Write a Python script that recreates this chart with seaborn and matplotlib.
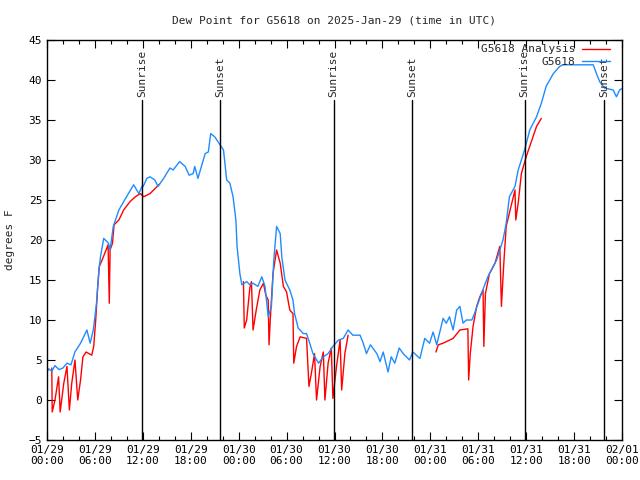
import matplotlib
matplotlib.use("Agg")
import matplotlib.pyplot as plt
import matplotlib.dates as mdates
from matplotlib.lines import Line2D
import seaborn as sns
import pandas as pd

# hours after 2025-01-29 00:00 UTC
obs_hours = [0.0, 0.2, 0.6, 1.0, 1.5, 2.0, 2.5, 3.0, 3.5, 4.2, 5.0, 5.4, 5.8, 6.2, 6.5,
             6.7, 7.1, 7.7, 7.9, 8.3, 9.0, 9.6, 10.2, 10.85, 11.5, 11.9, 12.05, 12.5,
             12.9, 13.5, 13.9, 14.6, 15.4, 15.8, 16.6, 17.3, 17.8, 18.3, 18.5, 18.9,
             19.4, 19.8, 20.2, 20.5, 21.0, 21.4, 22.1, 22.5, 22.9, 23.3, 23.65, 23.8,
             24.15, 24.4, 25.0, 25.4, 25.8, 26.4, 26.9, 27.3, 27.7, 28.1, 28.4, 28.75,
             29.2, 29.4, 29.8, 30.4, 30.8, 31.0, 31.45, 32.1, 32.5, 32.9, 33.3, 34.0,
             34.6, 35.2, 35.8, 36.5, 37.1, 37.7, 38.3, 39.2, 39.6, 40.0, 40.5, 41.3,
             41.7, 42.1, 42.7, 43.1, 43.55, 44.1, 44.6, 45.4, 45.8, 46.7, 47.3, 47.9,
             48.35, 48.8, 49.6, 50.0, 50.4, 50.85, 51.3, 51.7, 52.1, 52.5, 53.2, 53.6,
             54.4, 55.2, 56.3, 57.1, 57.5, 57.9, 58.6, 59.0, 59.8, 60.45, 61.3, 61.9,
             62.5, 63.4, 64.2, 64.6, 68.4, 68.8, 69.2, 69.8, 70.9, 71.3, 71.7, 71.95]
obs_dew = [3.5, 3.9, 3.6, 4.3, 3.8, 4.0, 4.6, 4.4, 6.0, 7.1, 8.75, 7.1, 8.75, 12.1, 16.25,
           17.9, 20.2, 19.6, 18.75, 21.7, 23.75, 24.8, 25.8, 26.9, 25.8, 26.7, 26.7, 27.7,
           27.9, 27.5, 26.7, 27.7, 29.0, 28.75, 29.8, 29.2, 28.1, 28.3, 29.2, 27.7,
           29.4, 30.8, 31.0, 33.3, 32.9, 32.3, 31.25, 27.5, 27.1, 25.4, 22.5, 19.2,
           15.8, 14.4, 14.8, 14.4, 14.6, 14.2, 15.4, 14.2, 10.4, 11.7, 17.5, 21.7,
           20.8, 17.9, 15.0, 13.75, 12.5, 10.8, 9.0, 8.3, 8.3, 7.1, 5.8, 4.6,
           5.4, 5.8, 6.7, 7.5, 7.7, 8.75, 8.1, 8.1, 7.1, 5.8, 6.9, 5.8,
           4.8, 6.0, 3.5, 5.4, 4.6, 6.5, 5.8, 5.0, 6.0, 5.2, 7.7, 7.1,
           8.5, 6.9, 10.2, 9.6, 10.4, 8.75, 11.25, 11.7, 9.6, 10.0, 10.0, 11.0,
           13.3, 15.4, 17.5, 20.0, 22.1, 25.4, 26.7, 28.75, 31.25, 33.75, 35.4, 37.1,
           39.2, 40.8, 41.7, 41.9, 41.9, 40.8, 39.8, 39.0, 38.75, 37.9, 38.75, 38.9]

ana_hours = [0.6, 0.65, 1.0, 1.45, 1.65, 2.1, 2.5, 2.8, 3.1, 3.5, 3.85, 4.2, 4.5, 4.9,
             5.6, 5.85, 6.1, 6.35, 6.55, 6.9, 7.3, 7.65, 7.8, 7.9, 8.2, 8.4, 9.0, 9.6,
             10.4, 11.05, 11.7, 12.1, 12.9, 13.8, 14.1,
             24.6, 24.7, 25.0, 25.4, 25.6, 25.8, 26.2, 26.65, 27.1, 27.4, 27.7, 27.8,
             28.0, 28.3, 28.75, 29.2, 29.6, 30.0, 30.4, 30.8, 30.9, 31.25, 31.7, 32.5,
             32.8, 33.1, 33.5, 33.75, 34.2, 34.6, 34.8, 35.2, 35.6, 35.8, 36.25, 36.7,
             36.9, 37.3, 37.7,
             48.7, 49.0, 49.6, 50.85, 51.7, 52.7, 52.8, 53.0, 53.35, 53.8, 54.2, 54.6,
             54.7, 54.9, 55.4, 56.1, 56.7, 56.9, 57.2, 57.5, 58.1, 58.6, 58.7, 59.0,
             59.4, 60.0, 60.65, 61.3, 61.9]
ana_dew = [4.0, -1.5, 0.0, 2.9, -1.5, 2.1, 4.2, -1.25, 2.1, 5.0, 0.0, 2.5, 5.4, 6.0,
           5.6, 6.7, 10.0, 14.2, 16.7, 17.5, 18.5, 19.4, 12.1, 18.75, 19.6, 21.9, 22.5, 23.75,
           24.8, 25.4, 25.8, 25.4, 25.8, 26.7, 27.0,
           14.8, 9.0, 10.0, 14.0, 14.8, 8.75, 11.25, 13.75, 14.6, 13.1, 12.5, 6.9,
           10.8, 15.8, 18.75, 17.1, 14.2, 13.5, 11.25, 10.8, 4.6, 6.7, 7.9, 7.7,
           1.7, 3.3, 5.8, 0.0, 4.2, 6.0, 0.0, 4.6, 6.5, 0.2, 4.2, 7.5,
           1.25, 5.8, 8.1,
           6.0, 6.9, 7.1, 7.7, 8.75, 8.9, 2.5, 5.8, 9.2, 11.7, 12.9, 13.75,
           6.7, 13.3, 15.8, 17.1, 19.2, 11.7, 17.1, 21.7, 24.2, 26.25, 22.5, 24.6,
           28.3, 30.4, 32.3, 34.2, 35.2]
ana_segment = [1] * 35 + [2] * 39 + [3] * 29

sun_hours = [11.9, 21.65, 35.9, 45.7, 59.8, 69.75]
sun_labels = ["Sunrise", "Sunset", "Sunrise", "Sunset", "Sunrise", "Sunset"]

start = pd.Timestamp("2025-01-29 00:00")
obs = pd.DataFrame({"time": start + pd.to_timedelta(obs_hours, unit="h"), "dew": obs_dew})
ana = pd.DataFrame({"time": start + pd.to_timedelta(ana_hours, unit="h"), "dew": ana_dew,
                    "seg": ana_segment})

sns.set_theme(style="ticks")
plt.rcParams["font.family"] = ["DejaVu Sans Mono"]
plt.rcParams["font.size"] = 8

fig = plt.figure(figsize=(6.4, 4.8), dpi=100)
ax = fig.add_axes([47 / 640, 40 / 480, 575 / 640, 400 / 480])

red = "#ff0000"
blue = "#1e8cff"
sns.lineplot(data=ana, x="time", y="dew", units="seg", estimator=None, color=red,
             lw=1, ax=ax)
sns.lineplot(data=obs, x="time", y="dew", color=blue, lw=1, ax=ax)

for h, lab in zip(sun_hours, sun_labels):
    t = start + pd.Timedelta(hours=h)
    ax.plot([t, t], [-5, 37.5], color="black", lw=1)
    ax.text(t, 37.9, lab, rotation=90, ha="center", va="bottom", fontsize=8)

ax.set_xlim(start, start + pd.Timedelta(hours=72))
ax.set_ylim(-5, 45)
ax.set_yticks(range(-5, 46, 5))
ax.xaxis.set_major_locator(mdates.HourLocator(byhour=range(0, 24, 6)))
ax.xaxis.set_minor_locator(mdates.HourLocator(byhour=range(0, 24, 2)))
ax.xaxis.set_major_formatter(mdates.DateFormatter("%m/%d\n%H:%M"))
ax.tick_params(which="both", direction="in", top=True, right=True, colors="black",
               labelsize=8, width=0.8)
ax.tick_params(which="major", length=6)
ax.tick_params(which="minor", length=3)
for s in ax.spines.values():
    s.set_color("black")
    s.set_linewidth(1)

ax.set_xlabel("")
ax.set_ylabel("degrees F", fontsize=8)
ax.yaxis.set_label_coords(-0.056, 0.5)
ax.set_title("Dew Point for G5618 on 2025-Jan-29 (time in UTC)", fontsize=8, pad=12)

handles = [Line2D([], [], color=red, lw=1), Line2D([], [], color=blue, lw=1)]
ax.legend(handles, ["G5618 Analysis", "G5618"], loc="upper right", frameon=False,
          bbox_to_anchor=(0.986, 1.0), borderaxespad=0, markerfirst=False,
          handlelength=2.5, fontsize=8, labelspacing=0.2, handletextpad=0.6)

fig.savefig("out.png", dpi=100)
